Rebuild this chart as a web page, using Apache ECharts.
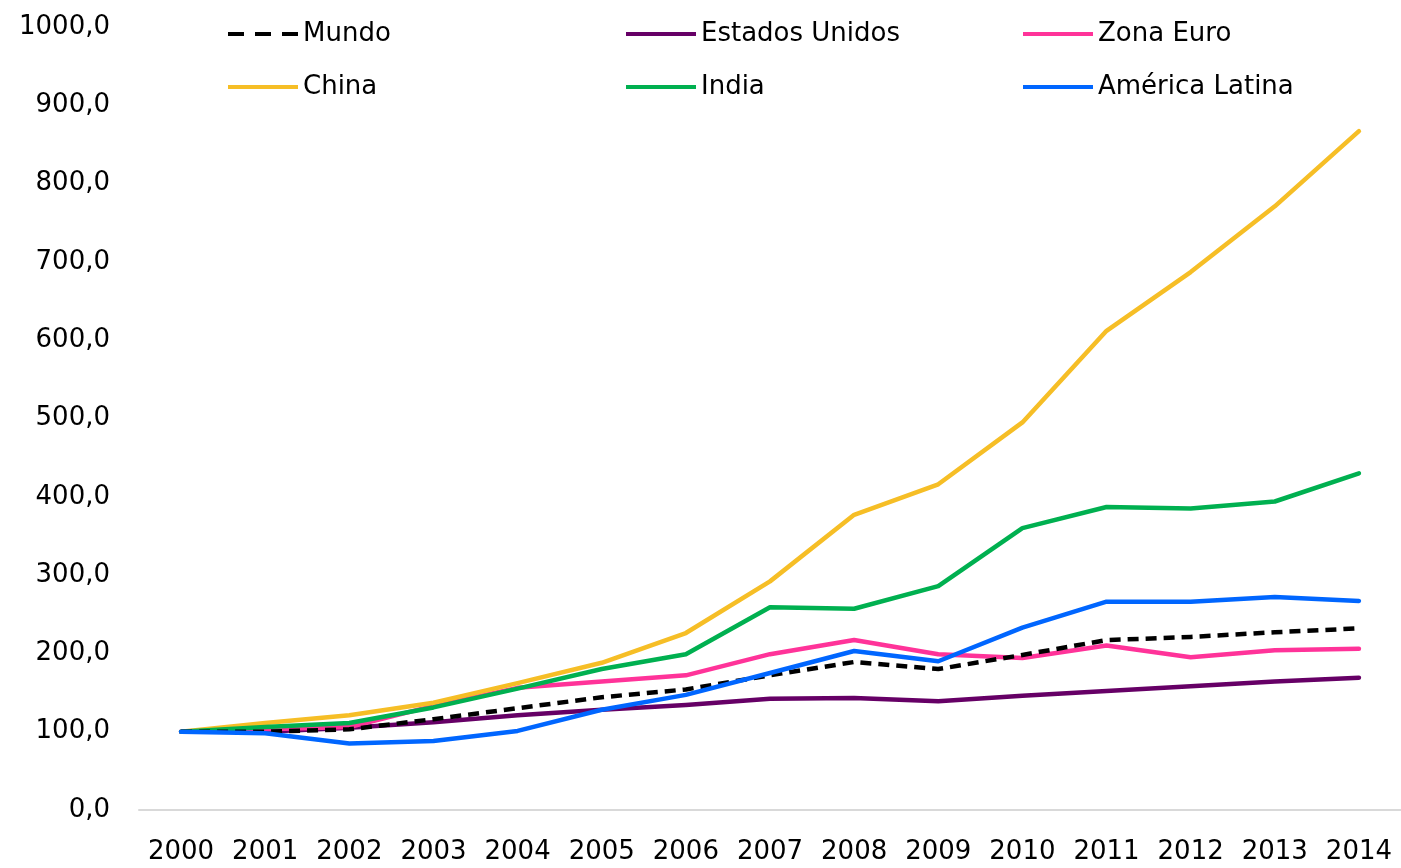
<!DOCTYPE html>
<html><head><meta charset="utf-8">
<script src="https://cdn.jsdelivr.net/npm/echarts@6/dist/echarts.min.js"></script>
<style>html,body{margin:0;padding:0;background:#fff}#c{width:1401px;height:868px}</style>
</head><body><div id="c"></div>
<script>
const years = ['2000','2001','2002','2003','2004','2005','2006','2007','2008','2009','2010','2011','2012','2013','2014'];
const mundo = [100,100,103,116,130,144,154,172,189,180,198,217,221,227,232];
const estadosUnidos = [100,100,105,112,121,128,134,142,143,139,146,152,158,164,169];
const zonaEuro = [100,103,106,133,156,164,172,199,217,199,194,210,195,204,206];
const china = [100,111,121,137,162,188,226,292,377,416,495,612,687,771,867];
const india = [100,106,111,131,155,180,199,259,257,286,360,387,385,394,430];
const americaLatina = [100,98,85,88,101,128,147,175,203,190,233,266,266,272,267];

const F = 'DejaVu Sans';
function s(name, data, color, dashed) {
  return {name, type:'line', data, symbol:'none', showSymbol:false, smooth:false,
    lineStyle:{color, width:4.5, type: dashed ? [11,7] : 'solid', cap: dashed ? 'butt' : 'round', join:'round'},
    itemStyle:{color}};
}
const dashIcon = 'path://M0,0h16v4h-16zM27,0h16v4h-16zM54,0h16v4h-16z';
function li(name, color, dashed) {
  return {name, icon: dashed ? dashIcon : 'path://M0,0h70v4h-70z', itemStyle:{color}};
}
const chart = echarts.init(document.getElementById('c'), null, {renderer:'canvas'});
const legBase = {orient:'vertical', itemWidth:70, itemHeight:5, itemGap:27, top:21, padding:0,
  textStyle:{fontFamily:F, fontSize:26, color:'#000'}, selectedMode:false};
chart.setOption({
  animation:false,
  grid:{left:139, right:-2, top:27, bottom:58, containLabel:false},
  legend:[
    Object.assign({}, legBase, {left:228, data:[li('Mundo','#000',true), li('China','#F6BE26')]}),
    Object.assign({}, legBase, {left:626, data:[li('Estados Unidos','#660066'), li('India','#00B050')]}),
    Object.assign({}, legBase, {left:1023, data:[li('Zona Euro','#FF3399'), li('América Latina','#0066FF')]})
  ],
  xAxis:{type:'category', data:years, boundaryGap:true,
    axisLine:{lineStyle:{color:'#d9d9d9', width:2}}, axisTick:{show:false},
    axisLabel:{fontFamily:F, fontSize:26, color:'#000', margin:29, interval:0}},
  yAxis:{type:'value', min:0, max:1000, interval:100,
    axisLine:{show:false}, axisTick:{show:false}, splitLine:{show:false},
    axisLabel:{fontFamily:F, fontSize:26, color:'#000', margin:29,
      formatter:v => v.toFixed(1).replace('.', ',')}},
  series:[
    s('Estados Unidos', estadosUnidos, '#660066'),
    s('Zona Euro', zonaEuro, '#FF3399'),
    s('China', china, '#F6BE26'),
    s('India', india, '#00B050'),
    s('Mundo', mundo, '#000000', true),
    s('América Latina', americaLatina, '#0066FF')
  ]
});
</script></body></html>
